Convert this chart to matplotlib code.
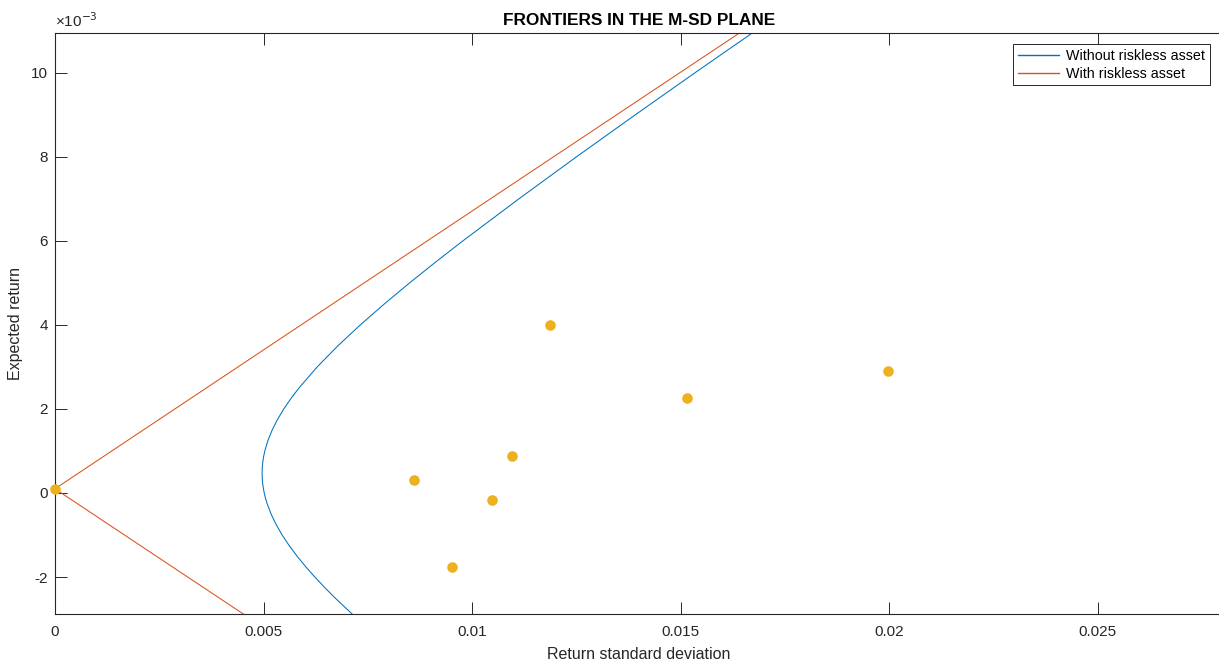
import matplotlib.pyplot as plt
from matplotlib.ticker import FuncFormatter

plt.rcParams['font.family'] = ['Liberation Sans', 'DejaVu Sans']

# efficient frontier without riskless asset
front_mu = [-3.5e-3, -3.0e-3, -2.5e-3, -2.25e-3, -2.0e-3, -1.75e-3, -1.5e-3, -1.25e-3,
            -1.0e-3, -0.75e-3, -0.5e-3, -0.25e-3, -0.125e-3, 0.0, 0.125e-3, 0.25e-3,
            0.35e-3, 0.47e-3, 0.6e-3, 0.75e-3, 0.875e-3, 1.0e-3, 1.25e-3, 1.5e-3,
            1.75e-3, 2.0e-3, 2.25e-3, 2.5e-3, 3.0e-3, 3.5e-3, 4.0e-3, 4.5e-3, 5.0e-3,
            5.5e-3, 6.0e-3, 7.0e-3, 8.0e-3, 9.0e-3, 10.0e-3, 11.0e-3, 11.5e-3]
front_sd = [7.825e-3, 7.252e-3, 6.717e-3, 6.467e-3, 6.230e-3, 6.008e-3, 5.802e-3, 5.614e-3,
            5.447e-3, 5.302e-3, 5.181e-3, 5.086e-3, 5.048e-3, 5.017e-3, 4.994e-3, 4.977e-3,
            4.969e-3, 4.966e-3, 4.970e-3, 4.984e-3, 5.004e-3, 5.031e-3, 5.106e-3, 5.208e-3,
            5.335e-3, 5.485e-3, 5.658e-3, 5.850e-3, 6.286e-3, 6.779e-3, 7.319e-3, 7.896e-3, 8.501e-3,
            9.130e-3, 9.778e-3, 11.12e-3, 12.50e-3, 13.91e-3, 15.34e-3, 16.79e-3, 17.52e-3]

# frontier with riskless asset (two rays from the riskless point)
cml_sd = [0.0175, 0.0, 0.0060]
cml_mu = [11.67e-3, 0.1e-3, -3.86e-3]

# individual assets, riskless asset first
asset_sd = [0.0, 0.00861, 0.00952, 0.01048, 0.01096, 0.01188, 0.01516, 0.01997]
asset_mu = [0.1e-3, 0.30e-3, -1.75e-3, -0.16e-3, 0.89e-3, 4.00e-3, 2.25e-3, 2.90e-3]

blue, red, yellow = '#0072BD', '#D95319', '#EDB120'

fig = plt.figure(figsize=(12.19, 6.67), dpi=100)
ax = fig.add_axes([0.0451, 0.0795, 0.958, 0.871])

l1, = ax.plot(front_sd, front_mu, color=blue, lw=0.75, label='Without riskless asset')
l2, = ax.plot(cml_sd, cml_mu, color=red, lw=0.75, label='With riskless asset')
ax.scatter(asset_sd, asset_mu, s=58, color=yellow, zorder=3, linewidths=0, clip_on=False)

ax.set_xlim(0, 0.028)
ax.set_ylim(-2.88e-3, 10.95e-3)
ax.set_xticks([0, 0.005, 0.01, 0.015, 0.02, 0.025])
ax.set_xticklabels(['0', '0.005', '0.01', '0.015', '0.02', '0.025'])
ax.set_yticks([-2e-3, 0, 2e-3, 4e-3, 6e-3, 8e-3, 10e-3])
ax.yaxis.set_major_formatter(FuncFormatter(lambda v, p: f'{v * 1e3:g}'))

dark = '#262626'
for s in ax.spines.values():
    s.set_color(dark)
    s.set_linewidth(0.8)
ax.spines['right'].set_visible(False)
ax.tick_params(direction='in', length=8.5, width=0.7, colors=dark,
               labelsize=11, top=True, right=False, labeltop=False, labelright=False)
ax.tick_params(axis='x', pad=8)
ax.tick_params(axis='y', pad=5)

ax.text(0.0, 1.005, '×10$^{-3}$', transform=ax.transAxes, fontsize=11,
        color=dark, ha='left', va='bottom')

ax.set_title('FRONTIERS IN THE M-SD PLANE', fontsize=12.4, fontweight='bold', pad=6)
ax.set_xlabel('Return standard deviation', fontsize=11.5, color=dark, labelpad=6)
ax.set_ylabel('Expected return', fontsize=11.5, color=dark, labelpad=6)

leg = ax.legend(handles=[l1, l2], loc='upper right', bbox_to_anchor=(0.989, 0.981),
                fontsize=10.25, fancybox=False, framealpha=1, edgecolor=dark,
                handlelength=2.9, borderpad=0.33, labelspacing=0.28, handletextpad=0.5,
                borderaxespad=0)
leg.get_frame().set_linewidth(0.7)
for ln, c in zip(leg.get_lines(), [blue, red]):
    ln.set_color(c)
    ln.set_linewidth(1.0)

fig.savefig('out.png', dpi=100)
